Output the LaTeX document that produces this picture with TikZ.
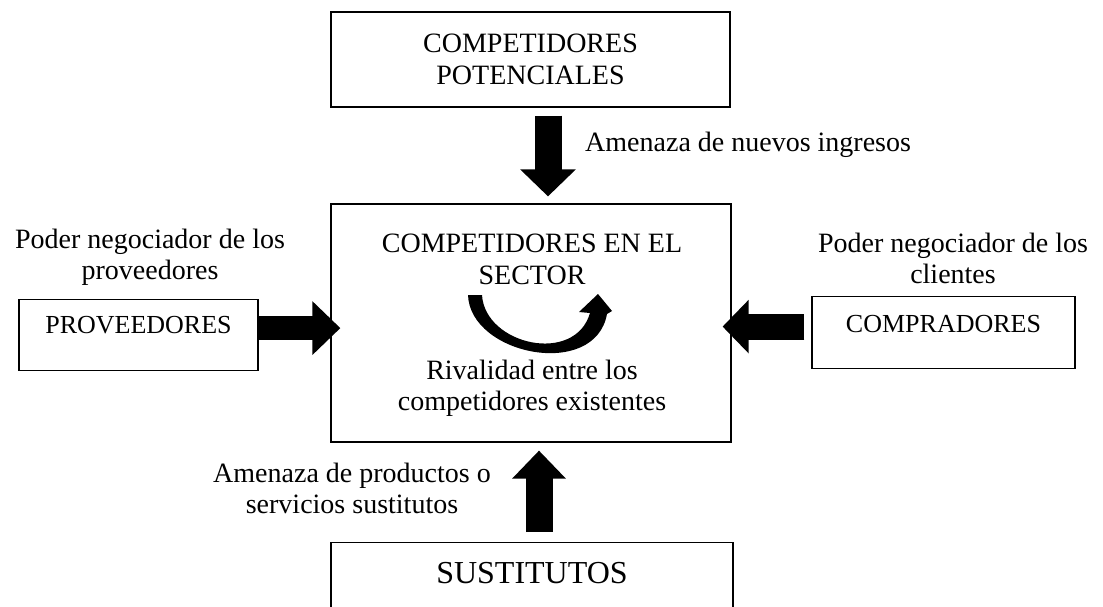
\documentclass[tikz,border=0pt]{standalone}
\usepackage{fontspec}
\setmainfont{Liberation Serif}
\usetikzlibrary{arrows.meta,calc}
\begin{document}
\begin{tikzpicture}[x=1pt,y=-1pt,
  box/.style={draw=black,line width=1.2pt,inner sep=0pt,rectangle},
  txt/.style={font=\fontsize{28}{32}\selectfont,align=center,inner sep=0pt},
  varrow/.style={line width=27pt,-{Triangle[length=27pt,width=54pt]}},
]
\useasboundingbox (0,0) rectangle (1103,607);
\clip (0,0) rectangle (1103,607);
% boxes
\node[box,txt,minimum width=399pt,minimum height=95pt] (pot) at (530.5,59.5) {COMPETIDORES\\POTENCIALES};
\node[box,minimum width=400pt,minimum height=238pt] (sec) at (531,323) {};
\node[box,anchor=north,minimum width=402pt,font=\fontsize{32}{38}\selectfont,text height=41pt,text depth=40pt] (sus) at (532,542) {SUSTITUTOS};
\node[box,anchor=north,minimum width=239pt,font=\fontsize{26}{30}\selectfont,text height=34pt,text depth=37pt] (prov) at (138.5,299) {PROVEEDORES};
\node[box,anchor=north,minimum width=263pt,font=\fontsize{26}{30}\selectfont,text height=36pt,text depth=36pt] (comp) at (943.5,296) {COMPRADORES};
% texts (anchor=base is the baseline of the last line)
\node[txt,anchor=base] (sectxt) at (532,284) {COMPETIDORES EN EL\\SECTOR};
\node[txt,anchor=base,font=\fontsize{28}{31}\selectfont] (rivtxt) at (532,410) {Rivalidad entre los\\competidores existentes};
\node[txt,anchor=base west] (newin) at (585,152) {Amenaza de nuevos ingresos};
\node[txt,anchor=base,font=\fontsize{28}{31}\selectfont] (provlab) at (150,279) {Poder negociador de los\\proveedores};
\node[txt,anchor=base,font=\fontsize{28}{31}\selectfont] (clilab) at (953,283) {Poder negociador de los\\clientes};
\node[txt,anchor=base,font=\fontsize{28}{31}\selectfont] (sustlab) at (352,513) {Amenaza de productos o\\servicios sustitutos};
% block arrows
\draw[varrow,shorten <=8pt,shorten >=7pt] ([xshift=17.5pt]pot.south) -- ([xshift=17.5pt]pot.south |- sec.north);
\draw[line width=27pt,-{Triangle[length=28pt,width=52pt]},shorten <=10pt,shorten >=8pt] ([xshift=7pt]sus.north) -- ([xshift=7pt]sus.north |- sec.south);
\draw[line width=24pt,-{Triangle[length=28pt,width=52pt]},shorten >=-10pt] ([yshift=7pt]prov.east) -- ([yshift=7pt]prov.east -| sec.west);
\draw[line width=26pt,-{Triangle[length=26pt,width=52pt]},shorten <=7pt,shorten >=-9pt] ([yshift=6pt]comp.west) -- ([yshift=6pt]comp.west -| sec.east);
% rivalry curved arrow
\fill (468,295) .. controls (470,355) and (595,380) .. (607,314) -- (612,311) -- (598,294) -- (579,312) -- (590,313) .. controls (575,365) and (485,345) .. (482,295) -- cycle;
\end{tikzpicture}
\end{document}
